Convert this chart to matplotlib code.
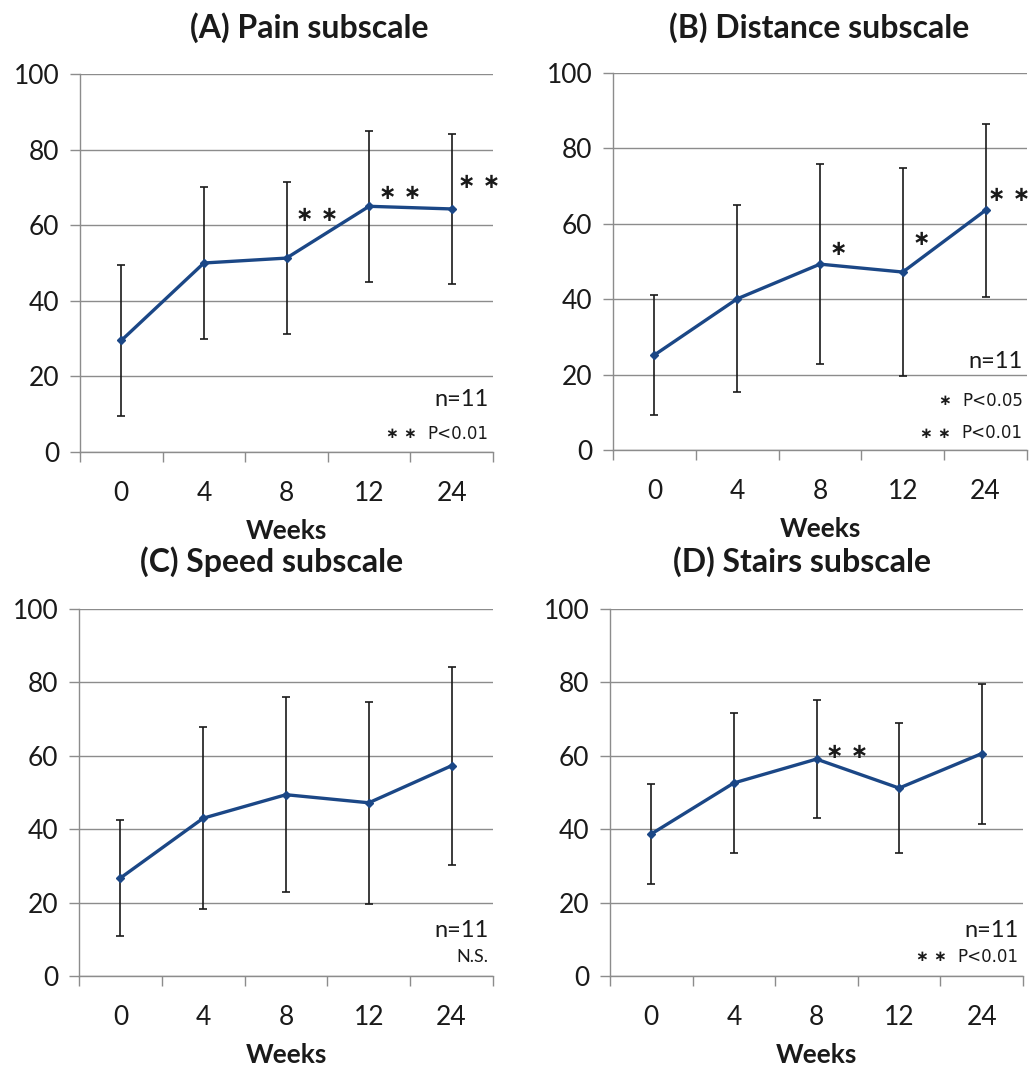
import numpy as np
import matplotlib
matplotlib.use("Agg")
import matplotlib.pyplot as plt
from matplotlib.ticker import FixedLocator

plt.rcParams['font.family'] = ['Lato', 'DejaVu Sans']

weeks = ['0', '4', '8', '12', '24']

# means and SD
pain_mean = [29.5, 50.0, 51.3, 65.0, 64.3]
pain_sd = [20.0, 20.0, 20.0, 20.0, 19.9]
dist_mean = [25.2, 40.1, 49.3, 47.2, 63.6]
dist_sd = [16.0, 24.8, 26.6, 27.5, 23.0]
speed_mean = [26.7, 43.0, 49.4, 47.2, 57.3]
speed_sd = [15.7, 24.8, 26.6, 27.5, 27.0]
stairs_mean = [38.7, 52.6, 59.1, 51.2, 60.6]
stairs_sd = [13.5, 19.0, 16.0, 17.8, 19.1]

titles = ['(A) Pain subscale', '(B) Distance subscale',
          '(C) Speed subscale', '(D) Stairs subscale']

# significance marks: (point index, number of stars, dx, dy)
pain_sig = [(2, 2, 0.37, 11.5), (3, 2, 0.38, 3.5), (4, 2, 0.33, 7.0)]
dist_sig = [(2, 1, 0.22, 4.0), (3, 1, 0.22, 8.8), (4, 2, 0.29, 4.0)]
speed_sig = []
stairs_sig = [(2, 2, 0.37, 1.8)]

# note lines: (stars, text)
pain_note = [(0, 'n=11'), (2, 'P<0.01')]
dist_note = [(0, 'n=11'), (1, 'P<0.05'), (2, 'P<0.01')]
speed_note = [(0, 'n=11'), (0, 'N.S.')]
stairs_note = [(0, 'n=11'), (2, 'P<0.01')]

panels = [
    (pain_mean, pain_sd, pain_sig, pain_note, [14.0, 4.8], [80, 74, 493, 452]),
    (dist_mean, dist_sd, dist_sig, dist_note, [23.5, 13.0, 4.4], [613, 73, 1027, 450]),
    (speed_mean, speed_sd, speed_sig, speed_note, [12.4, 5.2], [79, 609, 493, 976]),
    (stairs_mean, stairs_sd, stairs_sig, stairs_note, [12.4, 5.2], [610, 609, 1023, 976]),
]
title_pos = [(309, 28), (819, 28), (272, 562), (802, 562)]

W, H = 1036, 1077
fig = plt.figure(figsize=(W / 100, H / 100), dpi=100)
fig.patch.set_facecolor('white')

line_c = '#1b4786'
grid_c = '#8c8c8c'
txt_c = '#1a1a1a'
x = np.arange(len(weeks))

for k, (mean, sd, sig, note, note_y, box) in enumerate(panels):
    l, t, r, b = box
    ax = fig.add_axes([l / W, 1 - b / H, (r - l) / W, (b - t) / H])
    ax.errorbar(x, mean, yerr=sd, color=line_c, lw=2.4, marker='D', ms=4.5,
                ecolor='#1a1a1a', elinewidth=1.2, capsize=3, capthick=1.2, zorder=3)
    ax.set_xlim(-0.5, 4.5)
    ax.set_ylim(0, 100)
    ax.set_yticks(np.arange(0, 101, 20))
    ax.set_xticks(x)
    ax.set_xticklabels(weeks)
    ax.xaxis.set_minor_locator(FixedLocator(np.arange(-0.5, 5, 1)))
    ax.tick_params(axis='x', which='major', length=0, pad=21, labelsize=19, labelcolor=txt_c)
    ax.tick_params(axis='x', which='minor', length=7, width=1, color=grid_c, direction='out')
    ax.tick_params(axis='y', length=7, width=1, color=grid_c, pad=8, labelsize=19, labelcolor=txt_c)
    ax.grid(axis='y', color=grid_c, lw=1)
    for s in ['top', 'right']:
        ax.spines[s].set_visible(False)
    for s in ['left', 'bottom']:
        ax.spines[s].set_color(grid_c)
        ax.spines[s].set_linewidth(1)
    ax.set_axisbelow(True)
    ax.set_xlabel('Weeks', fontsize=19, fontweight='bold', labelpad=9, color=txt_c)

    for i, n, dx, dy in sig:
        ax.text(x[i] + dx, mean[i] + dy, ' '.join(['\u2217'] * n), ha='center', va='center',
                fontsize=15, fontweight='bold', color=txt_c, family='DejaVu Sans',
                clip_on=False)
    for (n, txt), yy in zip(note, note_y):
        if txt.startswith('n=') or txt == 'N.S.':
            fs = 17 if txt.startswith('n=') else 13
            ax.text(4.45, yy, txt, ha='right', va='center', fontsize=fs, color=txt_c)
        else:
            ax.text(4.45, yy, txt, ha='right', va='center', fontsize=12, color=txt_c,
                    family='DejaVu Sans')
            ax.text(3.58, yy, ' '.join(['\u2217'] * n), ha='right', va='center',
                    fontsize=11, fontweight='bold', color=txt_c, family='DejaVu Sans')

    tx, ty = title_pos[k]
    fig.text(tx / W, 1 - ty / H, titles[k], ha='center', va='center',
             fontsize=23, fontweight='bold', color=txt_c)

fig.savefig('out.png', dpi=100, facecolor='white')
